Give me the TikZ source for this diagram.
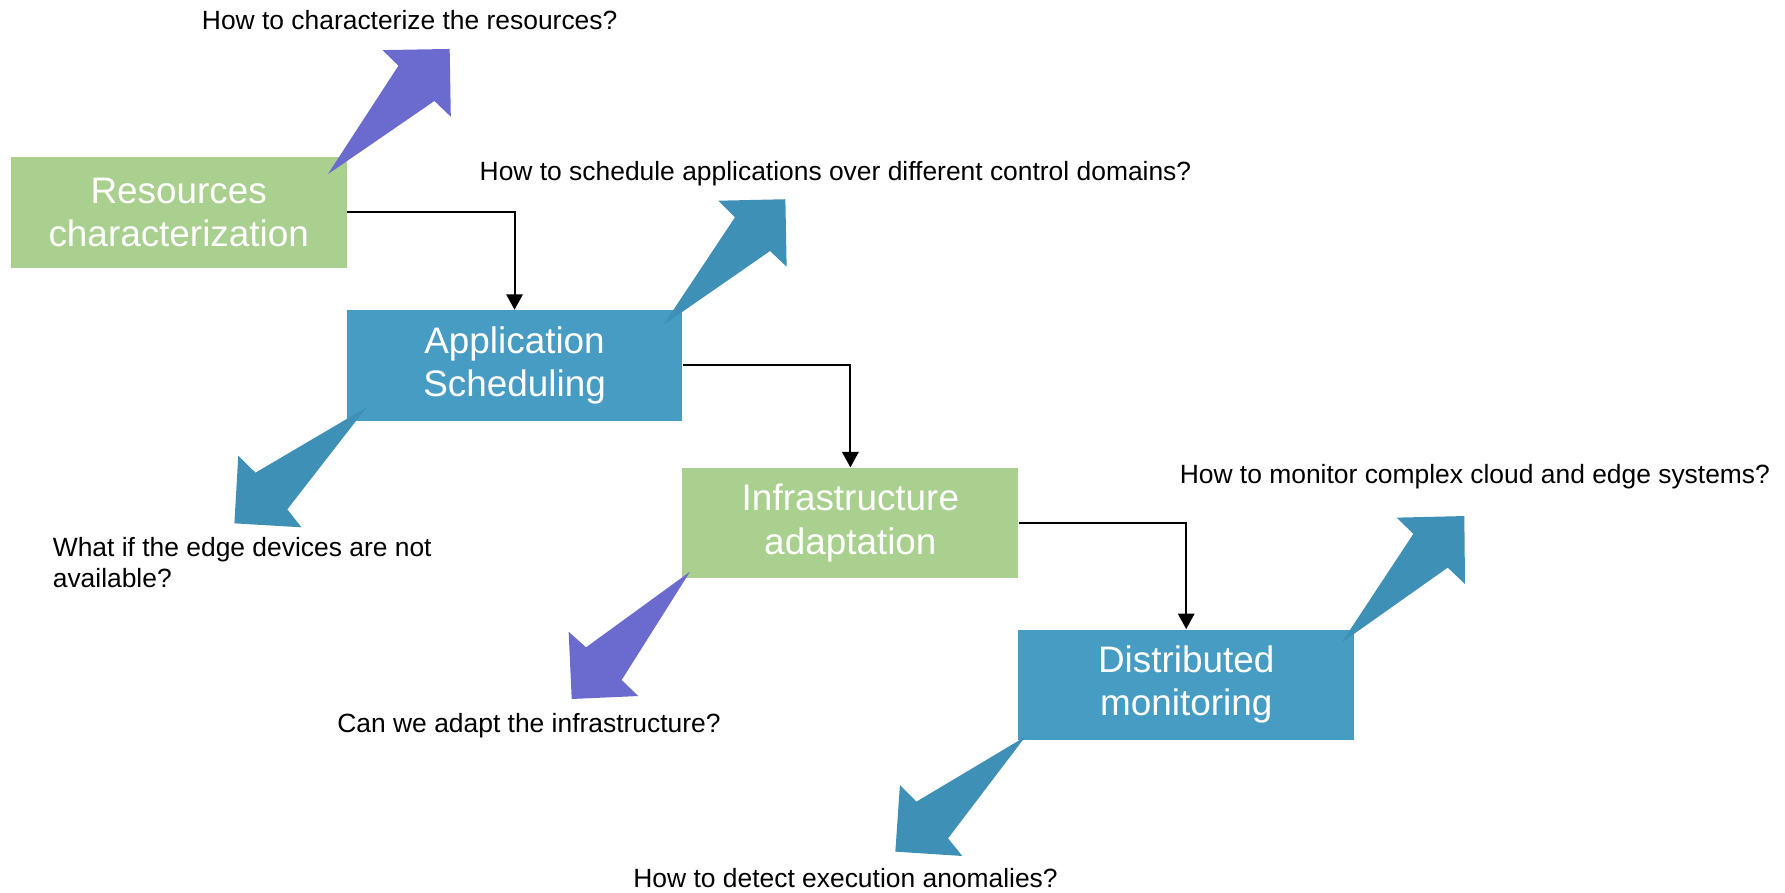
\documentclass[tikz,border=0pt]{standalone}
\usepackage{fontspec}
\setmainfont{Liberation Sans}
\usetikzlibrary{arrows.meta}
\definecolor{boxgreen}{HTML}{A9D08E}
\definecolor{boxblue}{HTML}{479CC4}
\definecolor{arrblue}{HTML}{3F90B6}
\definecolor{arrpurple}{HTML}{6B6BCF}
\begin{document}
\begin{tikzpicture}[x=0.5pt,y=-0.5pt,
  stage/.style={rectangle, inner sep=0pt, minimum width=147.5pt, minimum height=48.5pt,
    text=white, align=center, font=\fontsize{16.2}{19}\selectfont},
  greenstage/.style={stage, fill=boxgreen},
  bluestage/.style={stage, fill=boxblue},
  question/.style={inner sep=0pt, font=\fontsize{11.6}{13.5}\selectfont, align=left},
  flow/.style={draw=black, line width=0.85pt, -{Triangle[length=6.8pt,width=7.2pt]}},
  blockblue/.style={fill=arrblue},
  blockpurple/.style={fill=arrpurple}]
\useasboundingbox (0,0) rectangle (1568,784);

\node[greenstage] (rc) at (157,186.5) {Resources\\characterization};
\node[bluestage]  (as) at (452,321)   {Application\\Scheduling};
\node[greenstage] (ia) at (747,459.5) {Infrastructure\\adaptation};
\node[bluestage]  (dm) at (1042,601.5) {Distributed\\monitoring};

\draw[flow] (rc.east) -| (as.north);
\draw[flow] (as.east) -| (ia.north);
\draw[flow] (ia.east) -| (dm.north);

% block arrows
\fill[blockpurple] (288,153) -- (381.6,88.7) -- (396,102.5) -- (395,43) -- (336,44) -- (350,57.7) -- cycle;
\fill[blockblue] (582.7,285.5) -- (676.4,220.5) -- (691,234.3) -- (689.9,175) -- (631,176.3) -- (645.6,190.9) -- cycle;
\fill[blockblue] (322,357.8) -- (224.4,415.2) -- (209.3,400.3) -- (205.9,459.7) -- (264.8,463.2) -- (252.4,447.4) -- cycle;
\fill[blockpurple] (606.1,502.2) -- (514.8,568.6) -- (499.5,554.9) -- (502.2,614) -- (560.7,611.4) -- (546.1,597.3) -- cycle;
\fill[blockblue] (1178.5,564.5) -- (1271.7,498.6) -- (1286.9,513) -- (1286.3,453.3) -- (1226.9,454.7) -- (1241.5,469) -- cycle;
\fill[blockblue] (900.7,647.1) -- (805,704.2) -- (790.5,689.6) -- (786.5,748.1) -- (845.3,751.9) -- (832.8,736.4) -- cycle;

% questions
\node[question, anchor=base west] (q1) at (177,26) {How to characterize the resources?};
\node[question, anchor=base west] (q2) at (421,158.7) {How to schedule applications over different control domains?};
\node[question, anchor=north west] (q3) at (46,471.5) {What if the edge devices are not\\available?};
\node[question, anchor=base west] (q4) at (296,643) {Can we adapt the infrastructure?};
\node[question, anchor=base west] (q5) at (1036,424.6) {How to monitor complex cloud and edge systems?};
\node[question, anchor=base west] (q6) at (556,780) {How to detect execution anomalies?};
\end{tikzpicture}
\end{document}
